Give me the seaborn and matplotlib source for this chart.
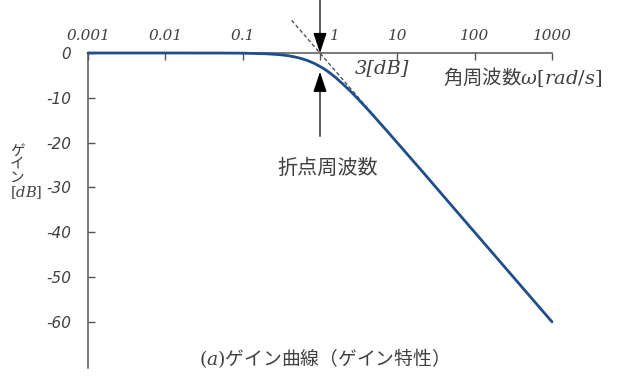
import matplotlib
matplotlib.use('Agg')
import matplotlib.pyplot as plt
import matplotlib.transforms as mtransforms
import seaborn as sns

# gain curve
omega = [0.001, 0.01, 0.05, 0.1, 0.2, 0.3, 0.4, 0.5, 0.6, 0.7, 0.8, 0.9, 1.0,
         1.12, 1.25, 1.4, 1.6, 1.8, 2.0, 2.5, 3.0, 4.0, 5.0, 7.0, 10.0,
         20.0, 50.0, 100.0, 200.0, 500.0, 1000.0]
gain_db = [0.0, 0.0, -0.01, -0.04, -0.17, -0.37, -0.64, -0.97, -1.34, -1.73,
           -2.15, -2.57, -3.01, -3.50, -4.06, -4.70, -5.50, -6.31, -6.99,
           -8.60, -10.0, -12.3, -14.15, -16.99, -20.04, -26.0, -33.98,
           -40.0, -46.02, -53.98, -60.0]

# straight-line asymptote (dashed)
asym_omega = [0.43, 1000.0]
asym_db = [7.3, -60.0]

xtick_vals = [0.001, 0.01, 0.1, 1, 10, 100, 1000]
xtick_labels = ['0.001', '0.01', '0.1', '1', '10', '100', '1000']
ytick_vals = [0, -10, -20, -30, -40, -50, -60]

CJK = ['Noto Sans CJK JP', 'DejaVu Sans']
GREY = '#404040'

sns.set_theme(style='white')
plt.rcParams['mathtext.fontset'] = 'dejavuserif'
plt.rcParams['font.family'] = CJK

fig = plt.figure(figsize=(6.26, 3.82), dpi=100)
ax = fig.add_axes([88 / 626, 1 - 368 / 382, (552 - 88) / 626, (368 - 53) / 382])

ax.plot(asym_omega, asym_db, color='#444444', lw=0.9, ls=(0, (3, 2)),
        clip_on=False, zorder=2)
sns.lineplot(x=omega, y=gain_db, ax=ax, color='#1f4e8c', lw=2.0,
             zorder=3, clip_on=False)

ax.set_xscale('log')
ax.set_xlim(0.001, 1000)
ax.set_ylim(-70.3, 0)

for side in ['right', 'bottom']:
    ax.spines[side].set_visible(False)
for side in ['left', 'top']:
    ax.spines[side].set_color('#555555')
    ax.spines[side].set_linewidth(1.1)

ax.xaxis.tick_top()
ax.set_xticks(xtick_vals)
ax.set_xticklabels(xtick_labels)
ax.xaxis.set_minor_locator(matplotlib.ticker.NullLocator())
ax.set_yticks(ytick_vals)
ax.set_yticklabels([str(v) for v in ytick_vals])
ax.tick_params(axis='x', direction='in', length=5, width=1, color='#555555',
               pad=7, labelsize=11, labelcolor=GREY)
ax.tick_params(axis='y', direction='in', length=5, width=1, color='#555555',
               pad=12, labelsize=11, labelcolor=GREY, left=True)
for lab in ax.get_xticklabels():
    lab.set_family('DejaVu Serif')
    lab.set_style('italic')
for lab in ax.get_yticklabels():
    lab.set_family('DejaVu Sans')
    lab.set_style('italic')
# the "1" label sits to the right of the arrow
one = ax.get_xticklabels()[3]
one.set_transform(one.get_transform() +
                  mtransforms.ScaledTranslation(15 / 100, 0, fig.dpi_scale_trans))

ax.set_xlabel('')
ax.set_ylabel('')

arrow = dict(arrowstyle='-|>,head_length=0.9,head_width=0.3', mutation_scale=14,
             color='black', lw=0.9, shrinkA=0, shrinkB=0)
ax.annotate('', xy=(1, 0), xytext=(1, 11.8), arrowprops=arrow,
            annotation_clip=False)
ax.annotate('', xy=(1, -4.2), xytext=(1, -18.6), arrowprops=arrow,
            annotation_clip=False)

fig.text(355 / 626, 1 - 68 / 382, '3[dB]', fontsize=14,
         color=GREY, va='center', ha='left', family='DejaVu Serif',
         style='italic')
fig.text(443 / 626, 1 - 77 / 382, r'角周波数$\omega[rad/s]$', fontsize=14,
         color=GREY, va='center', ha='left', family=CJK)
fig.text(277 / 626, 1 - 168 / 382, '折点周波数', fontsize=14.5,
         color=GREY, va='center', ha='left', family=CJK)
fig.text(319 / 626, 1 - 358 / 382, r'$(a)$ゲイン曲線（ゲイン特性）',
         fontsize=13.5, color=GREY, va='center', ha='center', family=CJK)
fig.text(10 / 626, 1 - 172 / 382, 'ゲ\nイ\nン\n$[dB]$', fontsize=10.5,
         color=GREY, va='center', ha='left', family=CJK, linespacing=0.95)

fig.savefig('out.png', dpi=100)
